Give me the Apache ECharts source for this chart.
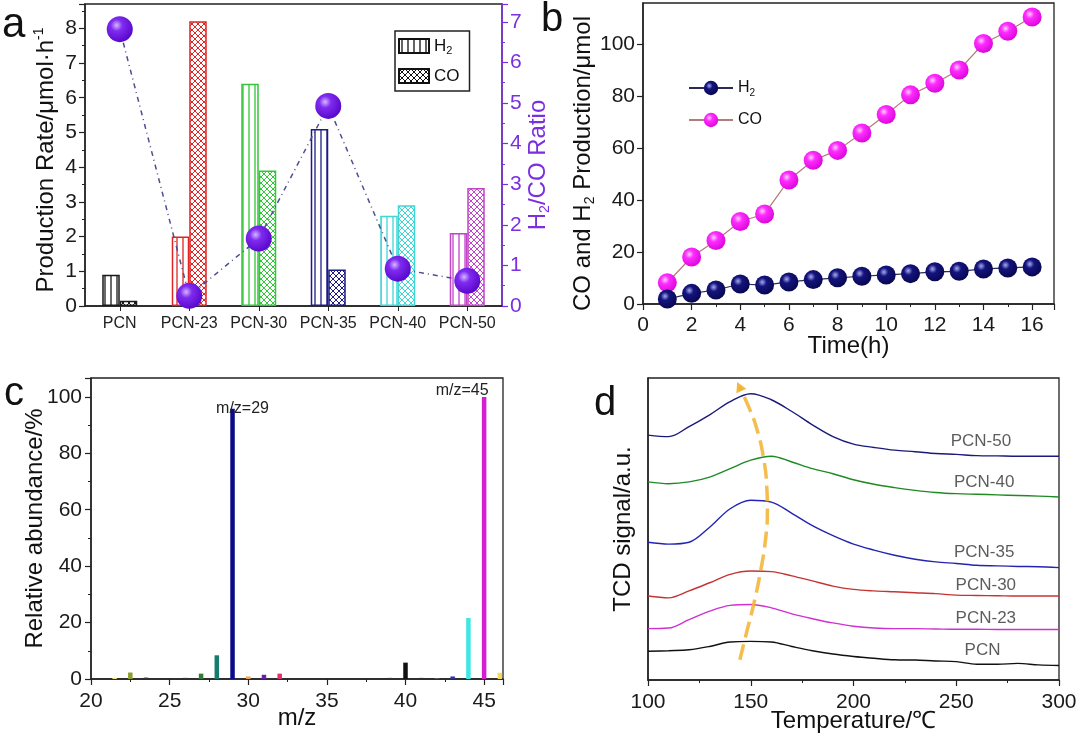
<!DOCTYPE html>
<html><head><meta charset="utf-8">
<script src="https://cdn.jsdelivr.net/npm/echarts@6/dist/echarts.min.js"></script>
<style>html,body{margin:0;padding:0;background:#fff}#c{width:1080px;height:736px}</style>
</head><body><div id="c"></div>
<script>
// ---------- Panel a ----------
const samples = ['PCN', 'PCN-23', 'PCN-30', 'PCN-35', 'PCN-40', 'PCN-50'];
const h2Rate = [0.9, 2.0, 6.4, 5.1, 2.6, 2.1];
const coRate = [0.15, 8.2, 3.9, 1.05, 2.9, 3.4];
const h2coRatio = [6.82, 0.25, 1.66, 4.93, 0.92, 0.62];
// ---------- Panel b ----------
const hours = [1, 2, 3, 4, 5, 6, 7, 8, 9, 10, 11, 12, 13, 14, 15, 16];
const h2Prod = [1.9, 4.1, 5.4, 7.7, 7.3, 8.5, 9.4, 10.1, 10.7, 11.2, 11.7, 12.4, 12.6, 13.5, 13.9, 14.3];
const coProd = [8.2, 18.1, 24.5, 31.8, 34.7, 47.8, 55.4, 59.2, 65.9, 73.0, 80.6, 85.1, 90.2, 100.4, 105.1, 110.6];
// ---------- Panel c ----------
const mz = [21.5, 22.5, 23.5, 26, 27, 28, 29, 30, 31, 32, 39, 40, 41, 42, 43, 44, 45, 46];
const abundance = [0.4, 2.3, 0.5, 0.4, 1.9, 8.4, 95.8, 0.9, 1.5, 1.9, 0.4, 5.8, 0.4, 0.3, 0.9, 21.6, 100, 2.2];
const peakMz = [29, 45];
const peakNotes = ['m/z=29', 'm/z=45'];
// ---------- Panel d ----------
const tcdTemps = [100, 110, 120, 130, 140, 150, 160, 170, 180, 190, 200, 210, 220, 230, 240, 250, 260, 270, 280, 290, 300];
const tcdPCN50 = [81.1, 80.6, 83.9, 87.8, 92.2, 94.8, 92.8, 88.9, 84.5, 80.6, 78.1, 77.0, 76.1, 75.6, 75.0, 74.7, 74.3, 74.2, 74.1, 74.1, 74.1];
const tcdPCN40 = [65.6, 65.0, 65.6, 67.2, 70.0, 72.8, 74.1, 72.2, 70.0, 68.3, 66.3, 64.8, 63.7, 62.8, 62.1, 61.7, 61.5, 61.3, 61.1, 60.9, 60.6];
const tcdPCN35 = [45.6, 45.0, 45.6, 50.6, 56.7, 59.5, 58.9, 55.2, 51.1, 47.8, 45.0, 43.0, 41.3, 40.0, 39.1, 38.6, 38.0, 37.8, 37.6, 37.5, 37.2];
const tcdPCN30 = [27.8, 27.2, 29.5, 32.2, 35.0, 36.1, 35.9, 34.5, 32.8, 31.1, 30.0, 29.5, 29.2, 28.9, 28.6, 28.1, 28.0, 27.9, 27.8, 27.8, 27.8];
const tcdPCN23 = [17.0, 17.2, 20.0, 22.8, 24.7, 25.0, 23.9, 21.9, 20.3, 18.9, 17.8, 17.2, 17.0, 17.0, 16.9, 16.8, 16.8, 16.7, 16.7, 16.7, 16.7];
const tcdPCN = [9.5, 9.7, 10.0, 11.1, 12.6, 12.8, 12.6, 11.1, 9.7, 8.6, 7.8, 7.2, 6.7, 6.6, 6.3, 6.1, 5.2, 5.2, 5.5, 5.0, 4.8];
const tcdLabelNames = ['PCN-50', 'PCN-40', 'PCN-35', 'PCN-30', 'PCN-23', 'PCN'];
const tcdLabelT = [262, 263.6, 263.6, 264.4, 264.4, 262.8];
const tcdLabelV = [78.9, 65.6, 42.2, 31.5, 20.5, 9.9];
const arrowT = [144.7, 148.1, 151.4, 154.8, 157.3, 158.1, 157.8, 156.4, 153.1, 148.9, 144.4];
const arrowV = [6.7, 16.1, 25.0, 36.1, 47.2, 56.1, 63.9, 72.8, 82.8, 90.6, 97.2];

// ---------- styles ----------
const FONT = '"Liberation Sans", Arial, sans-serif';
const sampleColors = ['#1a1a1a', '#e02424', '#33c63a', '#1c1c84', '#3fd6d6', '#c244c8'];
const purple = '#7a2fe0';
const mzColors = ['#efe28a', '#8e9e2c', '#333333', '#333333', '#2e7d32', '#177a6c', '#0a0a8a', '#f0a050', '#6a1fb0', '#e0306e', '#333333', '#111111', '#333333', '#666666', '#3030a0', '#3fe6e6', '#d21fd2', '#f2dc5a'];
const tcdColors = ['#1a1a7a', '#1f8a24', '#2424b0', '#c43434', '#d030d0', '#111111'];

function stripe(color) {
  const c = document.createElement('canvas'); c.width = 6; c.height = 6;
  const g = c.getContext('2d'); g.fillStyle = '#fff'; g.fillRect(0, 0, 6, 6);
  g.strokeStyle = color; g.lineWidth = 1.3; g.beginPath(); g.moveTo(3, 0); g.lineTo(3, 6); g.stroke();
  return { image: c, repeat: 'repeat' };
}
function hatch(color) {
  const c = document.createElement('canvas'); c.width = 6; c.height = 6;
  const g = c.getContext('2d'); g.fillStyle = '#fff'; g.fillRect(0, 0, 6, 6);
  g.strokeStyle = color; g.lineWidth = 1;
  g.beginPath(); g.moveTo(-1, -1); g.lineTo(7, 7); g.moveTo(-1, 7); g.lineTo(7, -1); g.stroke();
  return { image: c, repeat: 'repeat' };
}
function ball(light, mid, dark) {
  return { type: 'radial', x: 0.38, y: 0.35, r: 0.75,
    colorStops: [{ offset: 0, color: light }, { offset: 0.3, color: mid }, { offset: 1, color: dark }] };
}
const axisBlack = { lineStyle: { color: '#222', width: 1.5 } };
const tickOut = { show: true, inside: false, length: 6, lineStyle: { color: '#222', width: 1.2 } };
const minorOut = { show: true, splitNumber: 2, length: 3, lineStyle: { color: '#222', width: 1 } };
const tickLabel = { fontSize: 21, color: '#1a1a1a', fontFamily: FONT };
const subRich = { sub: { fontSize: 14, lineHeight: 12, verticalAlign: 'bottom', fontFamily: FONT },
                  sup: { fontSize: 14, lineHeight: 12, verticalAlign: 'top', fontFamily: FONT } };
const nameStyle = (color, lh) => ({ fontSize: 24, lineHeight: lh || 28, color: color || '#111', fontFamily: FONT, rich: subRich });

const chart = echarts.init(document.getElementById('c'), null, { renderer: 'canvas' });

const option = {
  animation: false,
  backgroundColor: '#fff',
  textStyle: { fontFamily: FONT },
  graphic: [
    { type: 'text', x: 2, y: 4, style: { text: 'a', fontSize: 42, fontFamily: FONT, fill: '#111' } },
    { type: 'text', x: 541, y: 0, style: { text: 'b', fontSize: 40, fontFamily: FONT, fill: '#111' } },
    { type: 'text', x: 4, y: 374, style: { text: 'c', fontSize: 40, fontFamily: FONT, fill: '#111' } },
    { type: 'text', x: 594, y: 384, style: { text: 'd', fontSize: 40, fontFamily: FONT, fill: '#111' } }
  ],
  grid: [
    { left: 85, top: 4, width: 417, height: 302, show: true, borderColor: '#222', borderWidth: 1.3, outerBoundsMode: 'none' },
    { left: 643, top: 3, width: 411, height: 301, show: true, borderColor: '#222', borderWidth: 1.3, outerBoundsMode: 'none' },
    { left: 91, top: 378, width: 412, height: 301, show: true, borderColor: '#222', borderWidth: 1.3, outerBoundsMode: 'none' },
    { left: 648, top: 378, width: 411, height: 302, show: true, borderColor: '#222', borderWidth: 1.3, outerBoundsMode: 'none' }
  ],
  legend: [
    { data: ['H2', 'CO'], orient: 'vertical', left: 395, top: 31, itemWidth: 30, itemHeight: 14, itemGap: 10,
      padding: [5, 10, 5, 3], borderColor: '#222', borderWidth: 1.5, icon: 'rect',
      formatter: n => n === 'H2' ? 'H{sub|2}' : n,
      textStyle: { fontSize: 17, lineHeight: 20, color: '#111', fontFamily: FONT,
        rich: { sub: { fontSize: 11, lineHeight: 9, verticalAlign: 'bottom', fontFamily: FONT } } } },
    { data: ['H2_b', 'CO_b'], orient: 'vertical', left: 683, top: 73, itemWidth: 44, itemHeight: 18, itemGap: 12,
      formatter: n => n === 'H2_b' ? 'H{sub|2}' : 'CO',
      textStyle: { fontSize: 16, lineHeight: 20, color: '#111', fontFamily: FONT,
        rich: { sub: { fontSize: 10, lineHeight: 9, verticalAlign: 'bottom', fontFamily: FONT } } } }
  ],
  xAxis: [
    { gridIndex: 0, type: 'category', data: samples, boundaryGap: true, axisLine: axisBlack,
      axisTick: { show: true, alignWithLabel: true, length: 5, lineStyle: { color: '#222' } },
      axisLabel: { interval: 0, fontSize: 16, color: '#222', margin: 10, fontFamily: FONT }, splitLine: { show: false } },
    { gridIndex: 1, type: 'value', min: 0, max: 16.9, interval: 2, axisLine: axisBlack, axisTick: tickOut,
      minorTick: minorOut, splitLine: { show: false },
      axisLabel: Object.assign({ margin: 11, showMaxLabel: false }, tickLabel),
      name: 'Time(h)', nameLocation: 'middle', nameGap: 30, nameMoveOverlap: false, nameTextStyle: nameStyle(null, 24) },
    { gridIndex: 2, type: 'value', min: 20, max: 46.2, interval: 5, axisLine: axisBlack, axisTick: tickOut,
      minorTick: minorOut, splitLine: { show: false },
      axisLabel: Object.assign({ margin: 12, showMaxLabel: false }, tickLabel),
      name: 'm/z', nameLocation: 'middle', nameGap: 27, nameMoveOverlap: false, nameTextStyle: nameStyle(null, 24) },
    { gridIndex: 3, type: 'value', min: 100, max: 300, interval: 50, axisLine: axisBlack, axisTick: tickOut,
      minorTick: minorOut, splitLine: { show: false },
      axisLabel: Object.assign({ margin: 12 }, tickLabel),
      name: 'Temperature/℃', nameLocation: 'middle', nameGap: 29, nameMoveOverlap: false, nameTextStyle: nameStyle(null, 24) }
  ],
  yAxis: [
    { gridIndex: 0, type: 'value', min: 0, max: 8.7, interval: 1, axisLine: Object.assign({ show: true }, axisBlack),
      axisTick: tickOut, minorTick: minorOut, splitLine: { show: false },
      axisLabel: Object.assign({ margin: 8, showMaxLabel: false }, tickLabel),
      name: 'Production Rate/μmol·h{sup|-1}', nameLocation: 'middle', nameRotate: 90, nameGap: 25, nameMoveOverlap: false,
      nameTextStyle: Object.assign(nameStyle(), { padding: [0, 10, 0, 0] }) },
    { gridIndex: 0, type: 'value', position: 'right', min: 0, max: 7.44, interval: 1,
      axisLine: { show: true, lineStyle: { color: purple, width: 1.5 } },
      axisTick: { show: true, inside: false, length: 6, lineStyle: { color: purple, width: 1.2 } },
      minorTick: { show: true, splitNumber: 2, length: 3, lineStyle: { color: purple } },
      splitLine: { show: false },
      axisLabel: { fontSize: 21, color: purple, margin: 8, showMaxLabel: false, fontFamily: FONT },
      name: 'H{sub|2}/CO Ratio', nameLocation: 'middle', nameRotate: 90, nameGap: 22, nameMoveOverlap: false,
      nameTextStyle: Object.assign(nameStyle(purple), { padding: [0, 20, 0, 0] }) },
    { gridIndex: 1, type: 'value', min: 0, max: 116, interval: 20, axisLine: Object.assign({ show: true }, axisBlack),
      axisTick: tickOut, splitLine: { show: false },
      axisLabel: Object.assign({ margin: 8, showMaxLabel: false }, tickLabel),
      name: 'CO and H{sub|2} Production/μmol', nameLocation: 'middle', nameRotate: 90, nameGap: 46, nameMoveOverlap: false,
      nameTextStyle: Object.assign(nameStyle(), { padding: [0, 20, 0, 0] }) },
    { gridIndex: 2, type: 'value', min: 0, max: 106.7, interval: 20, axisLine: Object.assign({ show: true }, axisBlack),
      axisTick: tickOut, minorTick: minorOut, splitLine: { show: false },
      axisLabel: Object.assign({ margin: 9, showMaxLabel: false }, tickLabel),
      name: 'Relative abundance/%', nameLocation: 'middle', nameRotate: 90, nameGap: 42, nameMoveOverlap: false,
      nameTextStyle: nameStyle() },
    { gridIndex: 3, type: 'value', min: 0, max: 100, axisLine: Object.assign({ show: true }, axisBlack),
      axisTick: { show: false }, axisLabel: { show: false }, splitLine: { show: false },
      name: 'TCD signal/a.u.', nameLocation: 'middle', nameRotate: 90, nameGap: 11, nameMoveOverlap: false,
      nameTextStyle: nameStyle() }
  ],
  series: [
    { name: 'H2', type: 'bar', xAxisIndex: 0, yAxisIndex: 0, barWidth: 17.5, barGap: '0%',
      itemStyle: { color: stripe('#111'), borderColor: '#111', borderWidth: 1.5 },
      data: h2Rate.map((v, i) => ({ value: v, itemStyle: { color: stripe(sampleColors[i]), borderColor: sampleColors[i], borderWidth: 1.5 } })) },
    { name: 'CO', type: 'bar', xAxisIndex: 0, yAxisIndex: 0, barWidth: 17.5, barGap: '0%',
      itemStyle: { color: hatch('#111'), borderColor: '#111', borderWidth: 1.5 },
      data: coRate.map((v, i) => ({ value: v, itemStyle: { color: hatch(sampleColors[i]), borderColor: sampleColors[i], borderWidth: 1.5 } })) },
    { name: 'ratio', type: 'line', xAxisIndex: 0, yAxisIndex: 1, z: 5, symbol: 'circle', symbolSize: 26,
      data: h2coRatio,
      lineStyle: { color: '#4d4d92', width: 1.5, type: [5, 4, 1, 4] },
      itemStyle: { color: ball('#d6b8ff', '#7f2cf0', '#5200c4') } },
    { name: 'H2_b', type: 'line', xAxisIndex: 1, yAxisIndex: 2, symbol: 'circle', symbolSize: 19, z: 4,
      data: hours.map((h, i) => [h, h2Prod[i]]),
      lineStyle: { color: '#2a2a55', width: 1.2 },
      itemStyle: { color: ball('#a8aaf0', '#14147e', '#050548') } },
    { name: 'CO_b', type: 'line', xAxisIndex: 1, yAxisIndex: 2, symbol: 'circle', symbolSize: 19, z: 3,
      data: hours.map((h, i) => [h, coProd[i]]),
      lineStyle: { color: '#b47a7a', width: 1.2 },
      itemStyle: { color: ball('#ffd0ff', '#ff2cff', '#d400d4') } },
    { name: 'ms', type: 'bar', xAxisIndex: 2, yAxisIndex: 3, barWidth: 4.5,
      data: mz.map((m, i) => {
        const k = peakMz.indexOf(m);
        const item = { value: [m, abundance[i]], itemStyle: { color: mzColors[i] } };
        if (k >= 0) item.label = { show: true, position: 'top', distance: 0, formatter: peakNotes[k],
          fontSize: 16, color: '#222', fontFamily: FONT, offset: k === 0 ? [10, 8] : [-22, 2] };
        return item;
      }) },
    ...[tcdPCN50, tcdPCN40, tcdPCN35, tcdPCN30, tcdPCN23, tcdPCN].map((arr, j) => ({
      name: tcdLabelNames[j], type: 'line', xAxisIndex: 3, yAxisIndex: 4, showSymbol: false, smooth: 0.35,
      data: tcdTemps.map((t, i) => [t, arr[i]]),
      lineStyle: { color: tcdColors[j], width: 1.4 }
    })),
    { name: 'shift', type: 'line', xAxisIndex: 3, yAxisIndex: 4, showSymbol: false, smooth: 0.5, z: 6,
      data: arrowT.map((t, i) => [t, arrowV[i]]),
      lineStyle: { color: '#f2b12e', width: 3.5, type: [16, 7], opacity: 0.85 } },
    { name: 'shiftHead', type: 'scatter', xAxisIndex: 3, yAxisIndex: 4, symbol: 'triangle', symbolSize: [11, 10],
      symbolRotate: 25, z: 6, data: [[arrowT[arrowT.length - 1], arrowV[arrowV.length - 1]]],
      itemStyle: { color: '#f2b12e', opacity: 0.9 } },
    { name: 'tcdLabels', type: 'scatter', xAxisIndex: 3, yAxisIndex: 4, symbolSize: 0.1, z: 7,
      itemStyle: { color: 'transparent' },
      data: tcdLabelNames.map((n, i) => ({ name: n, value: [tcdLabelT[i], tcdLabelV[i]] })),
      label: { show: true, position: 'inside', formatter: p => p.name, fontSize: 17, color: '#333', fontFamily: FONT } }
  ]
};
chart.setOption(option);
</script>
</body></html>
